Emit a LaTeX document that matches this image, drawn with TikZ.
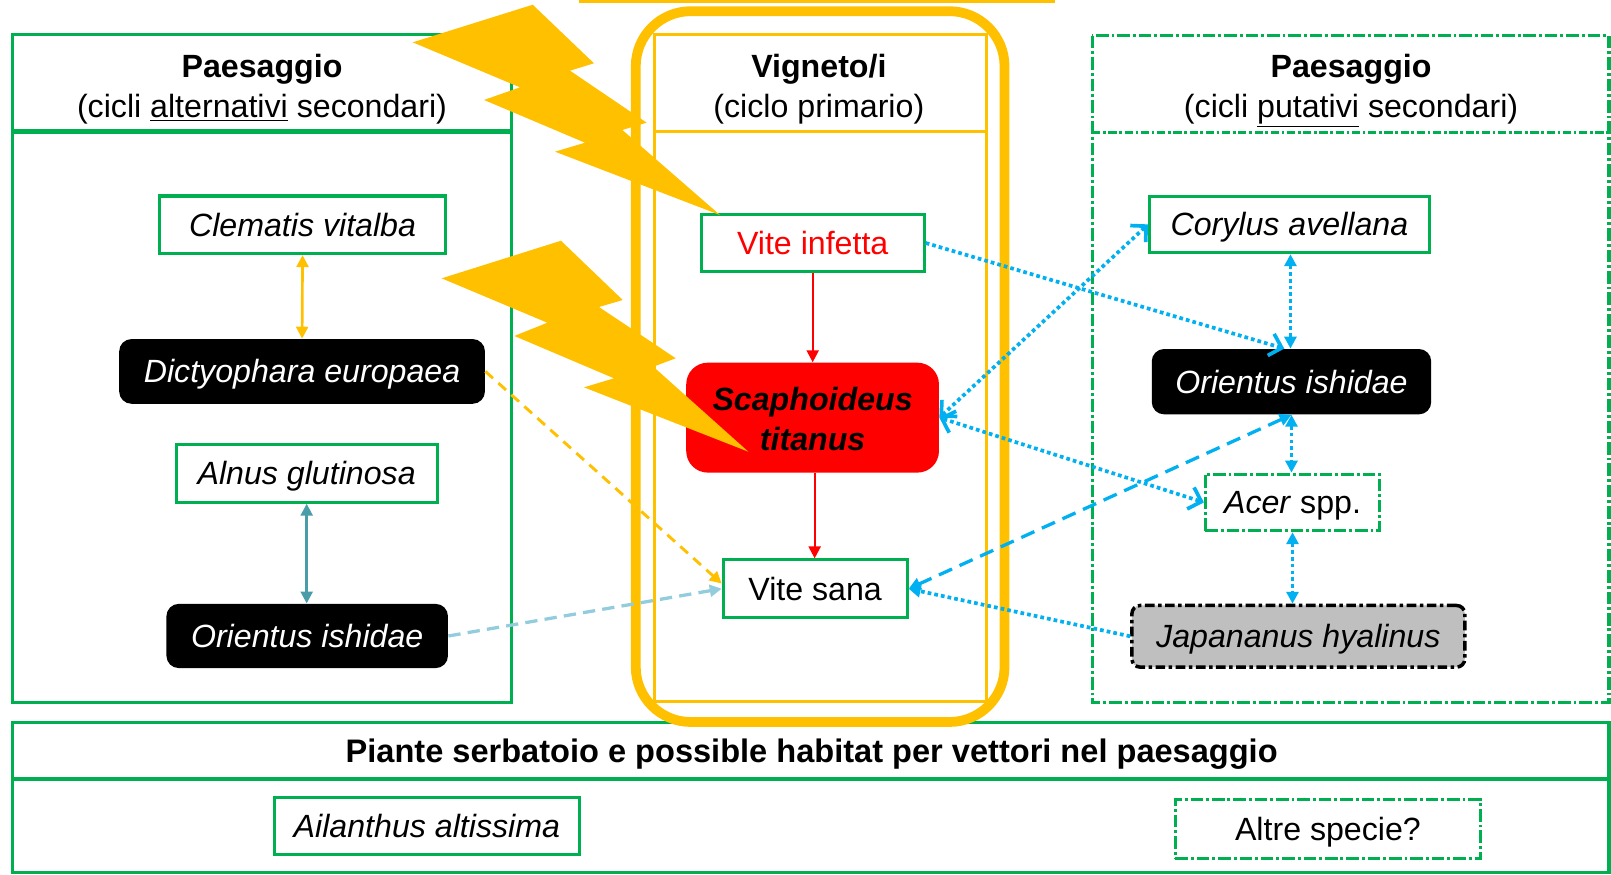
\documentclass[tikz,border=0pt]{standalone}
\usepackage{fontspec}
\setmainfont{Liberation Sans}
\usetikzlibrary{arrows.meta}
\definecolor{grn}{HTML}{00B050}
\definecolor{ylw}{HTML}{FFC000}
\definecolor{rd}{HTML}{FF0000}
\definecolor{blu}{HTML}{00B0F0}
\definecolor{tealc}{HTML}{4A9DA8}
\definecolor{ltteal}{HTML}{93CDDD}
\definecolor{gry}{HTML}{BFBFBF}
\tikzset{
  fnt/.style={font=\fontsize{15.65pt}{19.5pt}\selectfont},
  gbox/.style={draw=grn, line width=1.5pt, fill=white, inner sep=0pt, fnt, text height=11.2pt, text depth=0pt},
  bbox/.style={fill=black, rounded corners=6pt, inner sep=0pt, fnt, text=white, text height=11.2pt, text depth=0pt},
  dashdotg/.style={dash pattern=on 6.1pt off 1.45pt on 1.4pt off 1.45pt},
  densedd/.style={dash pattern=on 4pt off 1.3pt on 1.3pt off 1.3pt},
  blackdd/.style={dash pattern=on 4.7pt off 1.7pt on 1.7pt off 1.7pt},
  tb/.style={>={Triangle[length=5.8pt,width=5.8pt]}},
  sb/.style={>={Straight Barb[length=5.5pt,width=11pt]}},
  bdot/.style={blu, line width=1.8pt, dash pattern=on 1.8pt off 1.5pt},
  bdash/.style={blu, line width=1.6pt, dash pattern=on 7pt off 4pt},
}
\begin{document}
\begin{tikzpicture}[x=0.5pt,y=-0.5pt]
\useasboundingbox (0,0) rectangle (1568,850.7);

% left panel
\draw[grn, line width=1.5pt] (12,34) rectangle (498,684);
\draw[grn, line width=2pt] (12,128) -- (498,128);
\node[fnt, anchor=base] (lt1) at (255,75) {\textbf{Paesaggio}};
\node[fnt, anchor=base] (lt2) at (255,114) {(cicli \underline{alternativi} secondari)};

% right panel
\draw[grn, line width=1.5pt, dashdotg] (1063,35) rectangle (1566,684);
\draw[grn, line width=1.5pt, densedd] (1063,129) -- (1566,129);
\node[fnt, anchor=base] (rt1) at (1315,75) {\textbf{Paesaggio}};
\node[fnt, anchor=base] (rt2) at (1315,114) {(cicli \underline{putativi} secondari)};

% bottom panel
\draw[grn, line width=1.5pt] (12,703.4) rectangle (1566,849.4);
\draw[grn, line width=2pt] (12,758.5) -- (1566,758.5);
\node[font=\fontsize{15.85pt}{19.5pt}\selectfont, text height=11.3pt, text depth=0pt] (bt) at (790,731) {\textbf{Piante serbatoio e possible habitat per vettori nel paesaggio}};

% vineyard frame
\fill[ylw] (564,0) rectangle (1027,2.6);
\draw[ylw, line width=1.25pt] (637,33.8) rectangle (960,683);
\draw[ylw, line width=1.25pt] (637,128.2) -- (960,128.2);
\draw[ylw, line width=4.75pt, rounded corners=26.75pt] (618.8,10.9) rectangle (977.7,702.7);
\node[fnt, anchor=base] (mt1) at (797,75) {\textbf{Vigneto/i}};
\node[fnt, anchor=base] (mt2) at (797,114) {(ciclo primario)};

% nodes left
\node[gbox, minimum width=139pt, minimum height=28pt] (cle) at (294.5,218.8) {\textit{Clematis vitalba}};
\node[bbox, minimum width=178pt, minimum height=31.5pt] (dic) at (294,361.5) {\textit{Dictyophara europaea}};
\node[gbox, minimum width=127pt, minimum height=28pt] (aln) at (298.5,460.8) {\textit{Alnus glutinosa}};
\node[bbox, minimum width=137pt, minimum height=31.25pt] (ori1) at (299,619) {\textit{Orientus ishidae}};

% nodes middle
\node[gbox, minimum width=108.5pt, minimum height=28pt, text=rd] (vin) at (791,236.5) {Vite infetta};
\node[fill=rd, rounded corners=10.5pt, minimum width=123pt, minimum height=53.5pt, inner sep=0pt] (sca) at (790.9,406.5) {};
\node[fnt, align=center, inner sep=0pt] (scat) at (790.9,407.5) {\textbf{\textit{Scaphoideus}}\\\textbf{\textit{titanus}}};
\node[gbox, minimum width=89.5pt, minimum height=28pt] (vsa) at (793.4,573) {Vite sana};

% nodes right
\node[gbox, minimum width=136pt, minimum height=27.5pt] (cor) at (1255,218.4) {\textit{Corylus avellana}};
\node[bbox, minimum width=136pt, minimum height=31.8pt] (ori2) at (1257,371.5) {\textit{Orientus ishidae}};
\node[gbox, dashdotg, minimum width=84.75pt, minimum height=27.5pt] (ace) at (1258,489) {\textit{Acer} spp.};
\node[gbox, draw=black, line width=1.7pt, blackdd, fill=gry, rounded corners=4pt, minimum width=162pt, minimum height=30pt] (jap) at (1263.7,619.3) {\textit{Japananus hyalinus}};

% nodes bottom
\node[gbox, minimum width=148.5pt, minimum height=28pt] (ail) at (415.5,804) {\textit{Ailanthus altissima}};
\node[gbox, dashdotg, minimum width=148.5pt, minimum height=28.5pt] (alt) at (1292.5,807) {Altre specie?};

% connectors left
\draw[ylw, line width=1.3pt, tb, <->] (cle.south) -- (dic.north);
\draw[tealc, line width=1.3pt, tb, <->] (aln.south) -- (aln.south |- ori1.north);
\draw[ylw, line width=1.4pt, tb, ->, dash pattern=on 5pt off 3.5pt] (dic.east) -- ([yshift=2.5pt]vsa.west);
\draw[ltteal, line width=1.6pt, tb, ->, dash pattern=on 6pt off 3.5pt] (ori1.east) -- (vsa.west);

% connectors middle
\draw[rd, line width=1.1pt, tb, ->] (vin.south) -- (vin.south |- sca.north);
\draw[rd, line width=1.1pt, tb, ->] ([xshift=1pt]sca.south) -- ([xshift=1pt]sca.south |- vsa.north);

% connectors right
\draw[bdot, sb, ->] (vin.east) -- ([xshift=-3.5pt]ori2.north);
\draw[bdot, sb, <->] (sca.east) -- (cor.west);
\draw[bdot, sb, <->] (sca.east) -- (ace.west);
\draw[bdot, tb, <->] ([xshift=0.5pt]cor.south) -- ([xshift=0.5pt]cor.south |- ori2.north);
\draw[bdot, tb, <->] (ori2.south) -- (ori2.south |- ace.north);
\draw[bdot, tb, <->] (ace.south) -- (ace.south |- jap.north);
\draw[bdash, tb, <->] (ori2.south) -- (vsa.east);
\draw[bdot, tb, ->] (jap.west) -- (vsa.east);

% lightning bolts
\fill[ylw] (401.7,41.2) -- (518.5,4.6) -- (578.1,61.6) -- (554.8,68.8) -- (629.4,119.4) -- (605.7,126.5) -- (700.8,209.3) -- (540.2,147.6) -- (569.4,138.9) -- (471.1,97.3) -- (506.1,85) -- cycle;
\fill[ylw] (429.9,270.9) -- (546,234.3) -- (606.1,292) -- (583,298.8) -- (657.7,348.7) -- (635.9,356.9) -- (728.3,439.6) -- (568.4,377) -- (597.6,368.2) -- (500.6,327) -- (532.7,314.1) -- cycle;
\end{tikzpicture}
\end{document}
